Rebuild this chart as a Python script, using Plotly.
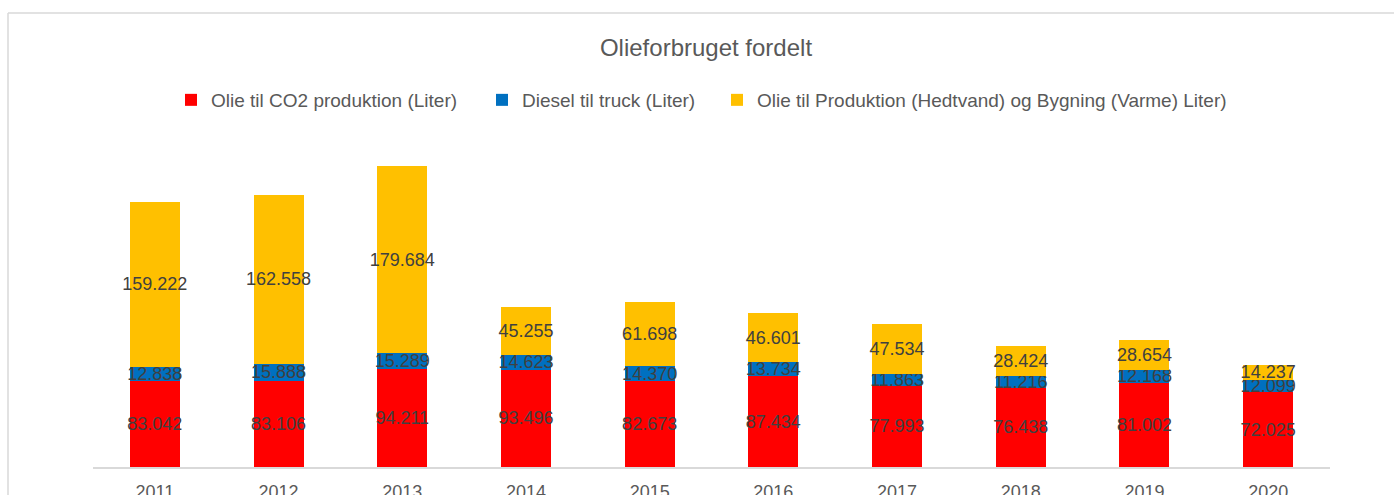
import plotly.graph_objects as go

years = ["2011", "2012", "2013", "2014", "2015", "2016", "2017", "2018", "2019", "2020"]
co2_oil = [83042, 83106, 94211, 93496, 82673, 87434, 77993, 76438, 81002, 72025]
truck_diesel = [12838, 15888, 15289, 14623, 14370, 13734, 11863, 11216, 12168, 12099]
heat_oil = [159222, 162558, 179684, 45255, 61698, 46601, 47534, 28424, 28654, 14237]

series_names = [
    "Olie til CO2 produktion (Liter)",
    "Diesel til truck (Liter)",
    "Olie til Produktion (Hedtvand) og Bygning (Varme) Liter)",
]
series_values = [co2_oil, truck_diesel, heat_oil]
colors = ["#FF0000", "#0070C0", "#FFC000"]
legend_ids = ["legend", "legend2", "legend3"]
legend_text_left = [211, 522, 757]  # pixel x where each legend text begins

FONT = "Liberation Sans, Arial, sans-serif"

W, H = 1394, 495
ml, mr, mt, mb = 93, 64, 130, 28
pw, ph = W - ml - mr, H - mt - mb


def px(x):
    return (x - ml) / pw


def py(y):
    return (H - mb - y) / ph


fig = go.Figure()
for name, vals, col, lid in zip(series_names, series_values, colors, legend_ids):
    fig.add_trace(go.Bar(
        x=years, y=vals, name=name, legend=lid, showlegend=True,
        marker=dict(color=col, line=dict(width=0)),
        texttemplate="%{y:,}",
        textposition="inside",
        insidetextanchor="middle",
        textangle=0,
        constraintext="none",
        textfont=dict(family=FONT, size=18, color="#404040"),
        hoverinfo="x+y+name",
    ))

legend_layouts = {}
for lid, tx in zip(legend_ids, legend_text_left):
    legend_layouts[lid] = dict(
        orientation="h",
        x=px(tx - 40), xanchor="left",
        y=py(100), yanchor="middle",
        font=dict(family=FONT, size=19, color="#595959"),
        bgcolor="rgba(0,0,0,0)",
        borderwidth=0,
        visible=True,
    )

fig.update_layout(
    width=W, height=H,
    autosize=False,
    showlegend=True,
    margin=dict(l=ml, r=mr, t=mt, b=mb, pad=0, autoexpand=False),
    barmode="stack",
    bargap=0.596,
    separators=",.",
    plot_bgcolor="white",
    paper_bgcolor="white",
    font=dict(family=FONT, color="#595959"),
    title=dict(
        text="Olieforbruget fordelt",
        x=px(706), xref="paper", xanchor="center",
        y=1 - 48 / H, yref="container", yanchor="middle",
        font=dict(family=FONT, size=24, color="#595959"),
    ),
    xaxis=dict(
        type="category",
        automargin=False,
        showline=True, linecolor="#d9d9d9", linewidth=1.5,
        showgrid=False, zeroline=False,
        ticks="outside", ticklen=8, tickcolor="rgba(0,0,0,0)",
        tickfont=dict(family=FONT, size=18, color="#595959"),
        range=[-0.5, 9.5],
        fixedrange=True,
    ),
    yaxis=dict(
        visible=False,
        automargin=False,
        range=[0, 324000],
        showgrid=False, zeroline=False,
        fixedrange=True,
    ),
    shapes=[
        dict(type="line", xref="paper", yref="paper",
             x0=px(8), x1=px(1400), y0=py(13), y1=py(13),
             line=dict(color="#d9d9d9", width=1.5)),
        dict(type="line", xref="paper", yref="paper",
             x0=px(8), x1=px(8), y0=py(13), y1=py(500),
             line=dict(color="#d9d9d9", width=1.5)),
    ],
    **legend_layouts,
)

fig.write_html(
    "out.html",
    config={"responsive": False, "displayModeBar": False},
    post_script="document.body.style.margin='0';document.body.style.overflow='hidden';"
                "document.documentElement.style.overflow='hidden';",
)
